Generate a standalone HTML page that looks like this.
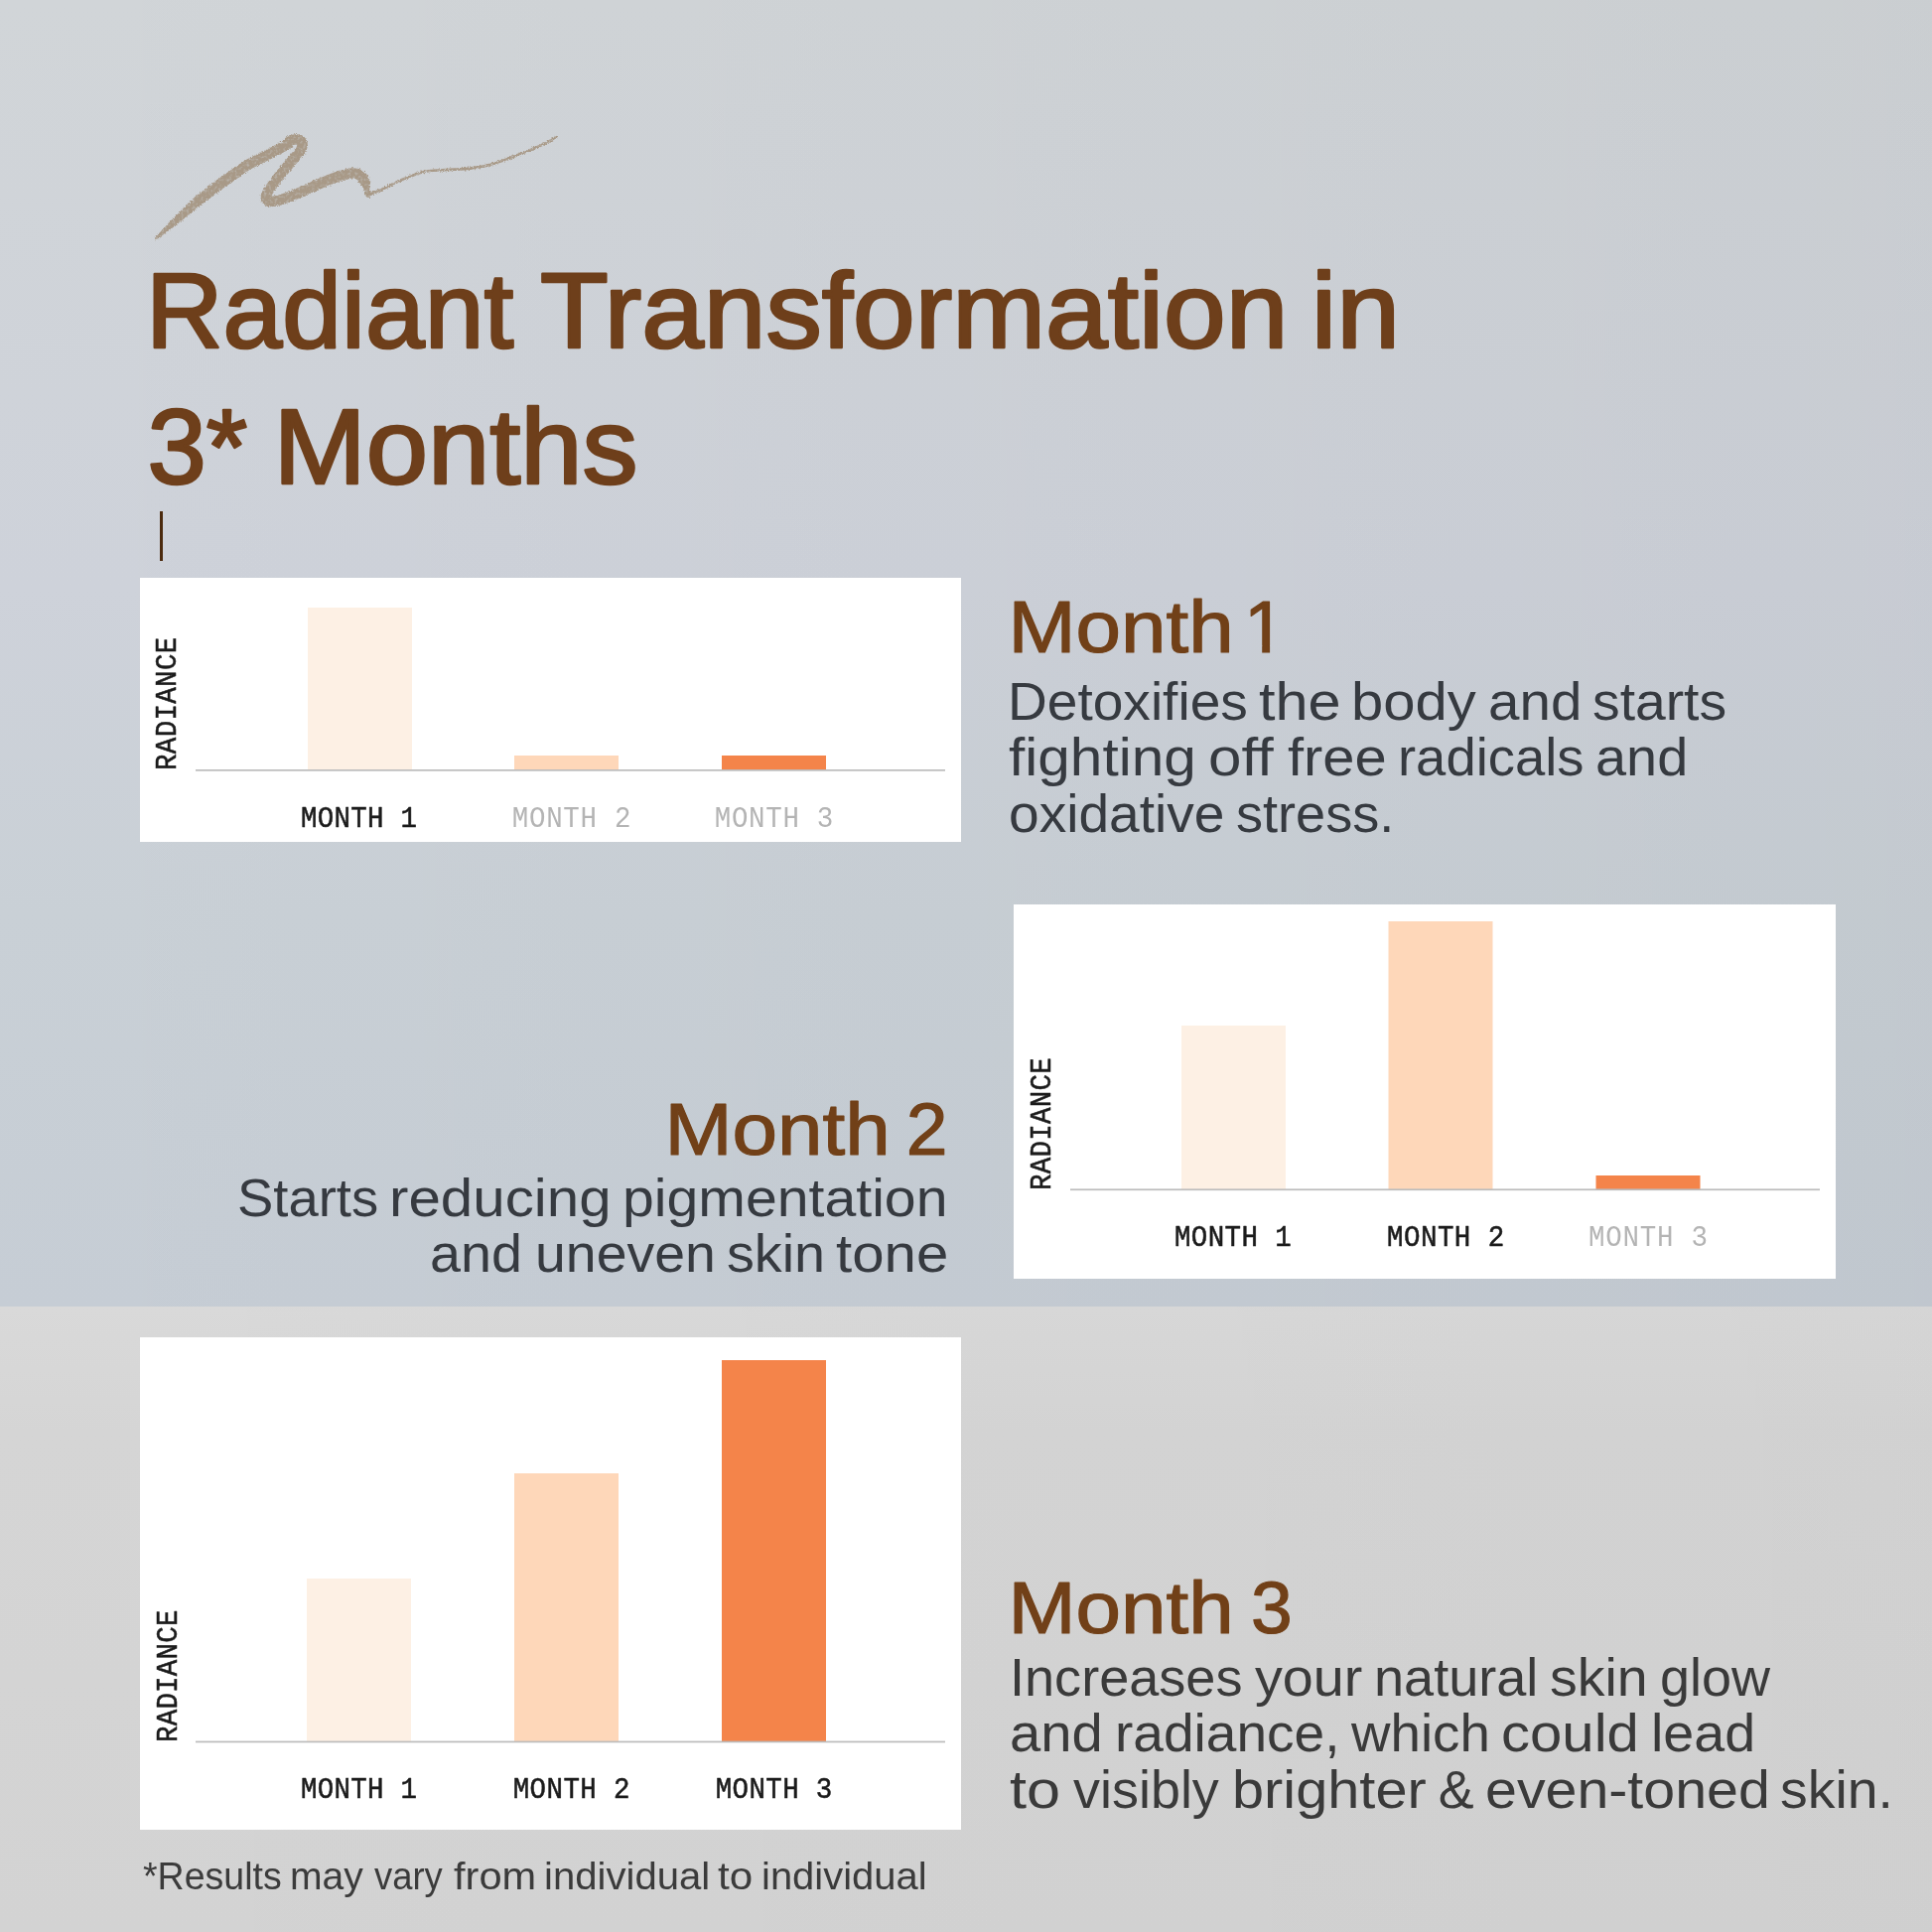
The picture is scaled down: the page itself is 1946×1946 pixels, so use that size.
<!DOCTYPE html>
<html>
<head>
<meta charset="utf-8">
<title>Radiant Transformation in 3* Months</title>
<style>
html,body{margin:0;padding:0;width:1946px;height:1946px;overflow:hidden;background:#cfd3d7;}
svg{display:block;}
text{opacity:0.999;}
.t{font-family:"Liberation Sans",Arial,sans-serif;}
.m{font-family:"Liberation Mono","DejaVu Sans Mono",monospace;}
</style>
</head>
<body>
<svg width="1946" height="1946" viewBox="0 0 1946 1946">
<defs>
<linearGradient id="bgTop" x1="0" y1="0" x2="0" y2="1">
<stop offset="0" stop-color="#d1d5d8"/>
<stop offset="0.45" stop-color="#ced2da"/>
<stop offset="0.7" stop-color="#c9d0d6"/>
<stop offset="1" stop-color="#c6cdd5"/>
</linearGradient>
<linearGradient id="bgBot" x1="0" y1="0" x2="0" y2="1">
<stop offset="0" stop-color="#d9d9d9"/>
<stop offset="0.2" stop-color="#d5d5d5"/>
<stop offset="1" stop-color="#d3d3d3"/>
</linearGradient>
<linearGradient id="shadeX" x1="0" y1="0" x2="1" y2="0">
<stop offset="0" stop-color="#000" stop-opacity="0"/>
<stop offset="1" stop-color="#000" stop-opacity="0.032"/>
</linearGradient>
<linearGradient id="shadeX2" x1="0" y1="0" x2="1" y2="0">
<stop offset="0" stop-color="#000" stop-opacity="0"/>
<stop offset="1" stop-color="#000" stop-opacity="0.018"/>
</linearGradient>
<filter id="rough" x="-10%" y="-30%" width="120%" height="160%">
<feTurbulence type="fractalNoise" baseFrequency="0.8" numOctaves="2" seed="3" result="n"/>
<feDisplacementMap in="SourceGraphic" in2="n" scale="4" xChannelSelector="R" yChannelSelector="G" result="d"/>
<feTurbulence type="fractalNoise" baseFrequency="0.35" numOctaves="2" seed="7" result="n2"/>
<feColorMatrix in="n2" type="matrix" values="0 0 0 0 0  0 0 0 0 0  0 0 0 0 0  0 0 0 -1.2 1.6" result="a"/>
<feComposite in="d" in2="a" operator="in"/>
</filter>
</defs>

<!-- background -->
<rect x="0" y="0" width="1946" height="1316" fill="url(#bgTop)"/>
<rect x="0" y="0" width="1946" height="1316" fill="url(#shadeX)"/>
<rect x="0" y="1316" width="1946" height="630" fill="url(#bgBot)"/>
<rect x="0" y="1316" width="1946" height="630" fill="url(#shadeX2)"/>
<!-- squiggle -->
<g filter="url(#rough)" opacity="0.95">
<path d="M157.6,241.4 L177.1,227.0 L202.9,205.9 L227.6,187.7 L252.1,170.5 L276.6,158.3 L295.4,148.2 L290.4,139.0 L271.8,148.9 L246.7,161.5 L221.4,179.1 L196.5,198.1 L172.5,221.8 L156.0,239.6 Z" fill="#a69683"/>
<g fill="none" stroke="#a69683" stroke-linecap="round" stroke-linejoin="round">
<path d="M289,144 C294,141 299,139 302,141 C306,144 305,150 300,155 C293,163 282,176 274,187 C268,195 265,201 271,203 C280,204 298,196 312,189.6 C326,183 342,176 354,174.5 C362,174 366,178 368,184" stroke-width="10.5"/>
<path d="M366,178 C369,185 369,192 371,196" stroke-width="6"/>
<path d="M371,196 C378,194 386,190 392.6,187 C400,183 406,180 414.3,177.2 C422,174 428,172 436,171.7 C448,171 458,170.5 468.7,170.1 C476,169.5 483,168.5 490.4,166.8 C498,164.5 505,162.5 512.2,159.8 C520,156.5 527,154 533.9,151.1 C540,148.5 545,146.5 550.2,144 C554,142 557,140 560,138" stroke-width="2.6"/>
</g>
</g>
<!-- cursor -->
<rect x="161" y="515" width="3" height="50" fill="#4b2a0e"/>
<!-- chart 1 -->
<rect x="141" y="582" width="827" height="266" fill="#ffffff"/>
<rect x="310" y="612" width="105" height="164" fill="#fdf0e4"/>
<rect x="518" y="761" width="105" height="15" fill="#fed7b9"/>
<rect x="727" y="761" width="105" height="15" fill="#f4844a"/>
<rect x="197" y="775" width="755" height="1.7" fill="#bcbcbc"/>
<!-- chart 2 -->
<rect x="1021" y="911" width="828" height="377" fill="#ffffff"/>
<rect x="1190" y="1033" width="105" height="165" fill="#fdf0e4"/>
<rect x="1398.5" y="928" width="105" height="270" fill="#fed7b9"/>
<rect x="1607.5" y="1184" width="105" height="14" fill="#f4844a"/>
<rect x="1078" y="1197.4" width="755" height="1.7" fill="#bcbcbc"/>
<!-- chart 3 -->
<rect x="141" y="1347" width="827" height="496" fill="#ffffff"/>
<rect x="309" y="1590" width="105" height="164.5" fill="#fdf0e4"/>
<rect x="518" y="1484" width="105" height="270.5" fill="#fed7b9"/>
<rect x="727" y="1370" width="105" height="384.5" fill="#f4844a"/>
<rect x="197" y="1753.6" width="755" height="1.7" fill="#bcbcbc"/>

<text class="t" x="0" y="0" font-size="108" fill="#6e3f1b" stroke="#6e3f1b" stroke-width="2.6" stroke-linejoin="round" transform="translate(147.00,350.00) scale(0.9949,1.0000)">Radiant</text>
<text class="t" x="0" y="0" font-size="108" fill="#6e3f1b" stroke="#6e3f1b" stroke-width="2.6" stroke-linejoin="round" transform="translate(544.00,350.00) scale(1.0431,1.0000)">Transformation</text>
<text class="t" x="0" y="0" font-size="108" fill="#6e3f1b" stroke="#6e3f1b" stroke-width="2.6" stroke-linejoin="round" transform="translate(1320.80,350.00) scale(1.0636,1.0000)">in</text>
<text class="t" x="0" y="0" font-size="108" fill="#6e3f1b" stroke="#6e3f1b" stroke-width="2.6" stroke-linejoin="round" transform="translate(148.40,486.50) scale(0.9863,1.0000)">3*</text>
<text class="t" x="0" y="0" font-size="108" fill="#6e3f1b" stroke="#6e3f1b" stroke-width="2.6" stroke-linejoin="round" transform="translate(275.40,486.50) scale(1.0369,1.0000)">Months</text>
<text class="t" x="0" y="0" font-size="75" fill="#714018" stroke="#714018" stroke-width="1.2" stroke-linejoin="round" transform="translate(1015.50,657.10) scale(1.0901,1.0000)">Month</text>
<clipPath id="c22570"><rect x="0" y="0" width="1946" height="650"/><rect x="1271.2" y="0" width="7.9" height="700"/></clipPath><text class="t" x="1253.00" y="657.10" font-size="75" fill="#714018" stroke="#714018" stroke-width="1.2" stroke-linejoin="round" clip-path="url(#c22570)">1</text>
<text class="t" x="0" y="0" font-size="75" fill="#714018" stroke="#714018" stroke-width="1.2" stroke-linejoin="round" transform="translate(669.50,1162.70) scale(1.0901,1.0000)">Month</text>
<text class="t" x="912.70" y="1162.70" font-size="75" fill="#714018" stroke="#714018" stroke-width="1.2" stroke-linejoin="round">2</text>
<text class="t" x="0" y="0" font-size="75" fill="#714018" stroke="#714018" stroke-width="1.2" stroke-linejoin="round" transform="translate(1015.50,1645.20) scale(1.0901,1.0000)">Month</text>
<text class="t" x="1260.00" y="1645.20" font-size="75" fill="#714018" stroke="#714018" stroke-width="1.2" stroke-linejoin="round">3</text>
<text class="t" x="0" y="0" font-size="53.8" fill="#363a40" transform="translate(1015.00,724.60) scale(1.0240,1.0000)">Detoxifies</text>
<text class="t" x="0" y="0" font-size="53.8" fill="#363a40" transform="translate(1268.00,724.60) scale(1.1050,1.0000)">the</text>
<text class="t" x="0" y="0" font-size="53.8" fill="#363a40" transform="translate(1361.00,724.60) scale(1.0777,1.0000)">body</text>
<text class="t" x="0" y="0" font-size="53.8" fill="#363a40" transform="translate(1499.00,724.60) scale(1.0513,1.0000)">and</text>
<text class="t" x="0" y="0" font-size="53.8" fill="#363a40" transform="translate(1604.00,724.60) scale(1.0274,1.0000)">starts</text>
<text class="t" x="0" y="0" font-size="53.8" fill="#363a40" transform="translate(1016.00,780.70) scale(1.0885,1.0000)">fighting</text>
<text class="t" x="0" y="0" font-size="53.8" fill="#363a40" transform="translate(1217.00,780.70) scale(1.1177,1.0000)">off</text>
<text class="t" x="0" y="0" font-size="53.8" fill="#363a40" transform="translate(1297.00,780.70) scale(1.0764,1.0000)">free</text>
<text class="t" x="0" y="0" font-size="53.8" fill="#363a40" transform="translate(1408.00,780.70) scale(1.0115,1.0000)">radicals</text>
<text class="t" x="0" y="0" font-size="53.8" fill="#363a40" transform="translate(1607.00,780.70) scale(1.0389,1.0000)">and</text>
<text class="t" x="0" y="0" font-size="53.8" fill="#363a40" transform="translate(1016.00,838.40) scale(1.0244,1.0000)">oxidative</text>
<text class="t" x="0" y="0" font-size="53.8" fill="#363a40" transform="translate(1245.00,838.40) scale(1.0056,1.0000)">stress.</text>
<text class="t" x="0" y="0" font-size="53.8" fill="#363a40" transform="translate(239.00,1224.60) scale(1.0123,1.0000)">Starts</text>
<text class="t" x="0" y="0" font-size="53.8" fill="#363a40" transform="translate(392.00,1224.60) scale(1.0835,1.0000)">reducing</text>
<text class="t" x="0" y="0" font-size="53.8" fill="#363a40" transform="translate(627.00,1224.60) scale(1.0632,1.0000)">pigmentation</text>
<text class="t" x="0" y="0" font-size="53.8" fill="#363a40" transform="translate(433.00,1281.20) scale(1.0364,1.0000)">and</text>
<text class="t" x="0" y="0" font-size="53.8" fill="#363a40" transform="translate(539.00,1281.20) scale(1.0302,1.0000)">uneven</text>
<text class="t" x="0" y="0" font-size="53.8" fill="#363a40" transform="translate(732.00,1281.20) scale(1.0363,1.0000)">skin</text>
<text class="t" x="0" y="0" font-size="53.8" fill="#363a40" transform="translate(842.00,1281.20) scale(1.0817,1.0000)">tone</text>
<text class="t" x="0" y="0" font-size="53.8" fill="#3a3a3a" transform="translate(1017.00,1707.70) scale(1.0053,1.0000)">Increases</text>
<text class="t" x="0" y="0" font-size="53.8" fill="#3a3a3a" transform="translate(1264.00,1707.70) scale(1.0358,1.0000)">your</text>
<text class="t" x="0" y="0" font-size="53.8" fill="#3a3a3a" transform="translate(1384.00,1707.70) scale(1.0053,1.0000)">natural</text>
<text class="t" x="0" y="0" font-size="53.8" fill="#3a3a3a" transform="translate(1561.00,1707.70) scale(1.0323,1.0000)">skin</text>
<text class="t" x="0" y="0" font-size="53.8" fill="#3a3a3a" transform="translate(1672.00,1707.70) scale(1.0039,1.0000)">glow</text>
<text class="t" x="0" y="0" font-size="53.8" fill="#3a3a3a" transform="translate(1017.00,1763.60) scale(1.0453,1.0000)">and</text>
<text class="t" x="0" y="0" font-size="53.8" fill="#3a3a3a" transform="translate(1123.00,1763.60) scale(1.0236,1.0000)">radiance,</text>
<text class="t" x="0" y="0" font-size="53.8" fill="#3a3a3a" transform="translate(1361.00,1763.60) scale(1.0173,1.0000)">which</text>
<text class="t" x="0" y="0" font-size="53.8" fill="#3a3a3a" transform="translate(1512.00,1763.60) scale(1.0797,1.0000)">could</text>
<text class="t" x="0" y="0" font-size="53.8" fill="#3a3a3a" transform="translate(1663.00,1763.60) scale(1.0344,1.0000)">lead</text>
<text class="t" x="0" y="0" font-size="53.8" fill="#3a3a3a" transform="translate(1017.00,1821.00) scale(1.1390,1.0000)">to</text>
<text class="t" x="0" y="0" font-size="53.8" fill="#3a3a3a" transform="translate(1081.00,1821.00) scale(1.0025,1.0000)">visibly</text>
<text class="t" x="0" y="0" font-size="53.8" fill="#3a3a3a" transform="translate(1241.00,1821.00) scale(1.0732,1.0000)">brighter</text>
<text class="t" x="1448.80" y="1821.00" font-size="53.8" fill="#3a3a3a" letter-spacing="0.676">&amp;</text>
<text class="t" x="0" y="0" font-size="53.8" fill="#3a3a3a" transform="translate(1496.00,1821.00) scale(1.0656,1.0000)">even-toned</text>
<text class="t" x="0" y="0" font-size="53.8" fill="#3a3a3a" transform="translate(1793.00,1821.00) scale(1.0298,1.0000)">skin.</text>
<text class="t" x="0" y="0" font-size="38" fill="#3b3b3b" transform="translate(144.00,1902.70) scale(0.9871,1.0000)">*Results</text>
<text class="t" x="0" y="0" font-size="38" fill="#3b3b3b" transform="translate(292.00,1902.70) scale(1.0293,1.0000)">may</text>
<text class="t" x="0" y="0" font-size="38" fill="#3b3b3b" transform="translate(377.00,1902.70) scale(0.9590,1.0000)">vary</text>
<text class="t" x="0" y="0" font-size="38" fill="#3b3b3b" transform="translate(457.00,1902.70) scale(1.0940,1.0000)">from</text>
<text class="t" x="0" y="0" font-size="38" fill="#3b3b3b" transform="translate(548.00,1902.70) scale(1.0559,1.0000)">individual</text>
<text class="t" x="0" y="0" font-size="38" fill="#3b3b3b" transform="translate(723.00,1902.70) scale(1.1100,1.0000)">to</text>
<text class="t" x="0" y="0" font-size="38" fill="#3b3b3b" transform="translate(767.00,1902.70) scale(1.0516,1.0000)">individual</text>
<text class="m" x="0" y="0" font-size="27.5" fill="#1b1b1b" letter-spacing="0.267" stroke="#1b1b1b" stroke-width="0.5" stroke-linejoin="round" transform="translate(303.00,833.00) scale(1.0000,1.0750)">MONTH 1</text>
<text class="m" x="0" y="0" font-size="27.5" fill="#b4b4b4" letter-spacing="0.733" transform="translate(515.70,833.00) scale(1.0000,1.0750)">MONTH 2</text>
<text class="m" x="0" y="0" font-size="27.5" fill="#b4b4b4" letter-spacing="0.700" transform="translate(719.70,833.00) scale(1.0000,1.0750)">MONTH 3</text>
<text class="m" x="0" y="0" font-size="27.5" fill="#1b1b1b" letter-spacing="0.367" stroke="#1b1b1b" stroke-width="0.5" stroke-linejoin="round" transform="translate(1183.00,1255.00) scale(1.0000,1.0750)">MONTH 1</text>
<text class="m" x="0" y="0" font-size="27.5" fill="#1b1b1b" letter-spacing="0.500" stroke="#1b1b1b" stroke-width="0.5" stroke-linejoin="round" transform="translate(1396.90,1255.00) scale(1.0000,1.0750)">MONTH 2</text>
<text class="m" x="0" y="0" font-size="27.5" fill="#b4b4b4" letter-spacing="0.733" transform="translate(1600.10,1255.00) scale(1.0000,1.0750)">MONTH 3</text>
<text class="m" x="0" y="0" font-size="27.5" fill="#1b1b1b" letter-spacing="0.267" stroke="#1b1b1b" stroke-width="0.5" stroke-linejoin="round" transform="translate(303.00,1811.40) scale(1.0000,1.0750)">MONTH 1</text>
<text class="m" x="0" y="0" font-size="27.5" fill="#1b1b1b" letter-spacing="0.400" stroke="#1b1b1b" stroke-width="0.5" stroke-linejoin="round" transform="translate(516.70,1811.40) scale(1.0000,1.0750)">MONTH 2</text>
<text class="m" x="0" y="0" font-size="27.5" fill="#1b1b1b" letter-spacing="0.367" stroke="#1b1b1b" stroke-width="0.5" stroke-linejoin="round" transform="translate(720.70,1811.40) scale(1.0000,1.0750)">MONTH 3</text>
<text class="m" font-size="27.5" fill="#1b1b1b" letter-spacing="0.329" stroke="#1b1b1b" stroke-width="0.5" stroke-linejoin="round" transform="translate(176.60,776.00) rotate(-90) scale(1.0000,1.1000)">RADIANCE</text>
<text class="m" font-size="27.5" fill="#1b1b1b" letter-spacing="0.271" stroke="#1b1b1b" stroke-width="0.5" stroke-linejoin="round" transform="translate(1057.90,1199.00) rotate(-90) scale(1.0000,1.1000)">RADIANCE</text>
<text class="m" font-size="27.5" fill="#1b1b1b" letter-spacing="0.214" stroke="#1b1b1b" stroke-width="0.5" stroke-linejoin="round" transform="translate(177.50,1755.00) rotate(-90) scale(1.0000,1.1000)">RADIANCE</text>
</svg>
</body>
</html>
